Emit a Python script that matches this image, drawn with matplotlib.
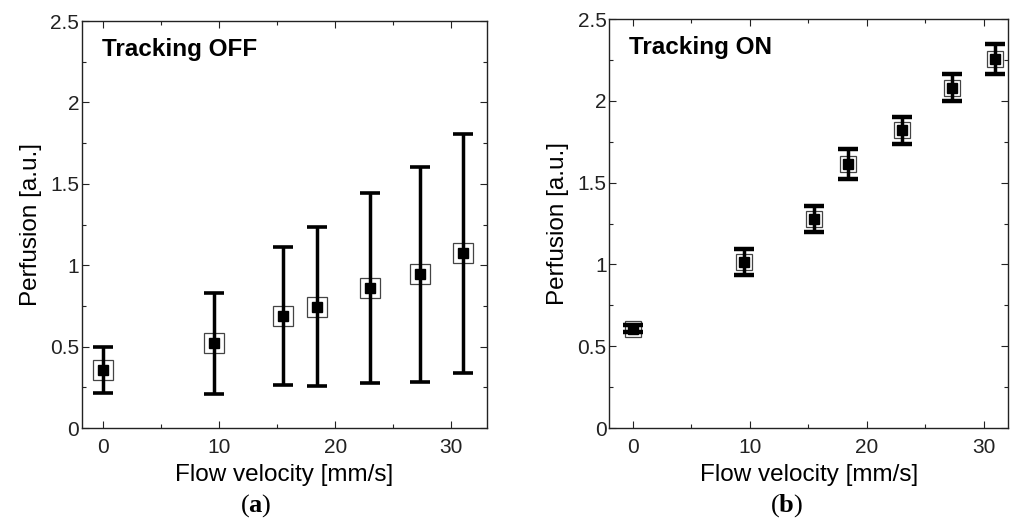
import matplotlib.pyplot as plt
from matplotlib.ticker import MultipleLocator

plt.rcParams['font.family'] = 'Liberation Sans'
plt.rcParams['mathtext.fontset'] = 'custom'
plt.rcParams['mathtext.bf'] = 'Liberation Serif:bold'
plt.rcParams['mathtext.rm'] = 'Liberation Serif'

# flow velocity [mm/s]
velocity = [0, 9.5, 15.5, 18.4, 23.0, 27.3, 31.0]

# tracking OFF
perf_off = [0.358, 0.521, 0.689, 0.746, 0.859, 0.944, 1.073]
err_off = [0.141, 0.309, 0.425, 0.490, 0.585, 0.660, 0.736]

# tracking ON
perf_on = [0.608, 1.015, 1.277, 1.613, 1.821, 2.080, 2.253]
err_on = [0.020, 0.077, 0.080, 0.093, 0.082, 0.083, 0.092]

fig = plt.figure(figsize=(10.11, 5.18), dpi=100)
ax1 = fig.add_axes([0.0811, 0.1737, 0.4006, 0.7857])
ax2 = fig.add_axes([0.6027, 0.1737, 0.3944, 0.7896])


def panel(ax, y, err, title, xlim, box, dot, capthick):
    # open box, then error bar, then filled square on top
    ax.plot(velocity, y, 's', ms=box, mfc='white', mec='#444444', mew=0.9,
            ls='none', zorder=2)
    ax.errorbar(velocity, y, yerr=err, fmt='none', ecolor='black',
                elinewidth=2.5, capsize=7.2, capthick=capthick, zorder=3)
    ax.plot(velocity, y, 's', ms=dot, color='black', ls='none', zorder=4)
    ax.set_xlim(*xlim)
    ax.set_ylim(0, 2.5)
    ax.xaxis.set_major_locator(MultipleLocator(10))
    ax.xaxis.set_minor_locator(MultipleLocator(5))
    ax.yaxis.set_minor_locator(MultipleLocator(0.25))
    ax.set_yticks([0, 0.5, 1, 1.5, 2, 2.5])
    ax.set_yticklabels(['0', '0.5', '1', '1.5', '2', '2.5'])
    ax.tick_params(which='both', direction='in', top=True, right=True,
                   labelsize=15, width=0.8, colors='#222222')
    ax.tick_params(axis='x', pad=7)
    ax.tick_params(axis='y', pad=2)
    ax.tick_params(which='major', length=5)
    ax.tick_params(which='minor', length=3)
    for s in ax.spines.values():
        s.set_linewidth(1.0)
        s.set_color('#222222')
    ax.set_xlabel('Flow velocity [mm/s]', fontsize=17.5, labelpad=5)
    ax.set_ylabel('Perfusion [a.u.]', fontsize=17.5, labelpad=6)
    ax.text(0.05, 0.93, title, transform=ax.transAxes, fontsize=17.5,
            fontweight='bold', va='center', ha='left')


panel(ax1, perf_off, err_off, 'Tracking OFF', (-1.85, 33.1), 14, 7.5, 2.6)
panel(ax2, perf_on, err_on, 'Tracking ON', (-2.0, 32.1), 12, 6.5, 3.2)

fig.text(256 / 1011, 1 - 506 / 518, r'($\mathbf{a}$)', fontsize=19,
         family='Liberation Serif', ha='center', va='center')
fig.text(787 / 1011, 1 - 506 / 518, r'($\mathbf{b}$)', fontsize=19,
         family='Liberation Serif', ha='center', va='center')

fig.savefig('out.png', dpi=100)
